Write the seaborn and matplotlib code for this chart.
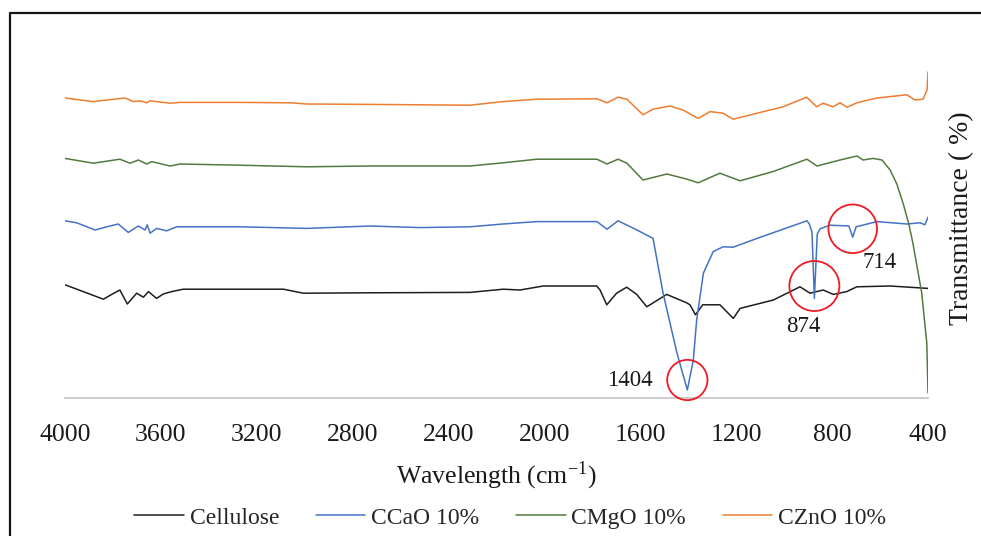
import matplotlib
matplotlib.use("Agg")
import matplotlib.pyplot as plt
from matplotlib.lines import Line2D
import numpy as np
import pandas as pd
import seaborn as sns

# FTIR spectra (stacked, arbitrary transmittance offsets)
cellulose_wn = [4000, 3924, 3840, 3805, 3771, 3740, 3701, 3673, 3652, 3618, 3590, 3555,
                3507, 3089, 3006, 2728, 2311, 2172, 2102, 2005, 1782, 1768, 1740, 1699,
                1657, 1615, 1573, 1490, 1407, 1393, 1370, 1340, 1268, 1212, 1184, 1045,
                934, 892, 837, 795, 739, 697, 558, 400]
cellulose_t = [28.3, 26.6, 24.7, 25.9, 27.0, 23.5, 26.2, 25.2, 26.6, 24.9, 26.0, 26.6,
               27.2, 27.2, 26.2, 26.3, 26.4, 27.2, 27.0, 28.0, 28.0, 27.0, 23.3, 26.2,
               27.7, 25.9, 22.8, 25.9, 23.8, 23.3, 20.8, 23.3, 23.3, 19.9, 22.4, 24.5,
               27.8, 26.2, 27.0, 25.9, 26.6, 27.8, 28.0, 27.4]

ccao_wn = [4000, 3951, 3875, 3826, 3778, 3736, 3694, 3666, 3657, 3645, 3618, 3576,
           3534, 3270, 2991, 2728, 2519, 2311, 2173, 2031, 1781, 1739, 1693, 1614,
           1547, 1505, 1447, 1404, 1379, 1365, 1337, 1296, 1255, 1213, 1113, 976,
           905, 895, 884, 874, 862, 850, 809, 730, 714, 700, 613, 488, 433, 413, 400]
ccao_t = [44.3, 43.8, 42.0, 42.8, 43.5, 41.4, 43.0, 42.0, 43.3, 41.2, 42.4, 41.8,
          42.8, 42.8, 42.4, 43.0, 42.6, 42.8, 43.5, 44.1, 44.1, 42.2, 44.3, 42.0,
          39.9, 26.2, 11.2, 2.0, 9.5, 19.5, 31.2, 36.6, 37.8, 37.7, 39.9, 42.8,
          44.3, 43.5, 41.5, 24.9, 41.0, 42.3, 43.2, 43.0, 40.2, 42.8, 44.1, 43.5,
          43.8, 43.3, 45.2]

cmgo_wn = [4000, 3882, 3771, 3729, 3694, 3659, 3638, 3562, 3520, 3270, 2991, 2728,
           2311, 2173, 2031, 1781, 1739, 1693, 1656, 1589, 1489, 1405, 1359, 1268,
           1184, 1047, 905, 863, 767, 696, 671, 629, 592, 558, 530, 504, 480, 463,
           426, 405, 400]
cmgo_t = [59.9, 58.7, 59.7, 58.7, 59.5, 58.5, 59.1, 58.0, 58.5, 58.2, 57.8, 58.0,
          58.0, 58.8, 59.7, 59.7, 58.5, 59.7, 58.7, 54.5, 56.0, 54.7, 53.8, 56.2,
          54.3, 56.6, 59.7, 58.0, 59.5, 60.5, 59.5, 59.9, 59.5, 57.0, 53.5, 48.7,
          43.5, 38.7, 26.2, 13.7, 1.3]

czno_wn = [4000, 3882, 3826, 3750, 3715, 3687, 3659, 3645, 3562, 3520, 3270, 3061,
           2991, 2728, 2311, 2173, 2031, 1781, 1739, 1693, 1656, 1589, 1547, 1476,
           1422, 1359, 1309, 1255, 1213, 1113, 1005, 906, 864, 838, 796, 767, 738,
           696, 613, 488, 454, 421, 404, 400]
czno_t = [75.0, 74.1, 74.5, 75.0, 74.1, 74.3, 73.8, 74.3, 73.7, 73.9, 73.9, 73.8,
          73.5, 73.4, 73.2, 74.1, 74.7, 74.8, 73.8, 75.2, 74.7, 70.8, 72.2, 73.0,
          72.0, 69.9, 71.6, 71.2, 69.7, 71.2, 72.8, 75.2, 72.8, 73.7, 72.8, 73.8,
          72.7, 73.8, 75.0, 75.8, 74.5, 74.7, 77.0, 81.5]

series_names = ["Cellulose", "CCaO 10%", "CMgO 10%", "CZnO 10%"]
series_colors = ["#1e1e1e", "#4472c4", "#527a3e", "#ed7d31"]

# Marked CaCO3 bands on the CCaO spectrum
peak_wn = [1404, 874, 714]
peak_t = [4.5, 28.0, 42.3]
peak_circle_pt = [29, 36, 35]
peak_label_wn = [1643, 921, 600]
peak_label_t = [4.5, 17.8, 33.8]

frames = []
for name, wn, t in zip(series_names,
                       [cellulose_wn, ccao_wn, cmgo_wn, czno_wn],
                       [cellulose_t, ccao_t, cmgo_t, czno_t]):
    frames.append(pd.DataFrame({"wn": wn, "t": t, "sample": name}))
df = pd.concat(frames, ignore_index=True)

sns.set_theme(style="white")
plt.rcParams["font.family"] = ["Liberation Serif", "DejaVu Serif"]
plt.rcParams["mathtext.fontset"] = "stix"

fig = plt.figure(figsize=(9.81, 5.36), dpi=100)
ax = fig.add_axes([65 / 981, 1 - 398 / 536, 863 / 981, 360 / 536])

sns.lineplot(data=df, x="wn", y="t", hue="sample", hue_order=series_names,
             palette=series_colors, estimator=None, sort=True, linewidth=1.1,
             ax=ax, legend=True)

ax.set_xlim(4000, 400)
ax.set_ylim(0, 90)
ax.set_xticks([4000, 3600, 3200, 2800, 2400, 2000, 1600, 1200, 800, 400])
ax.set_yticks([])
ax.tick_params(axis="x", length=0, pad=19, labelsize=18.5, colors="#1a1a1a")
for side in ["top", "left", "right"]:
    ax.spines[side].set_visible(False)
ax.spines["bottom"].set_color("#c8c8c8")
ax.spines["bottom"].set_linewidth(1.3)

ax.set_xlabel(r"Wavelength (cm$^{\mathregular{-1}}$)", fontsize=18.5, color="#1a1a1a")
ax.xaxis.set_label_coords(0.5, -0.17)
ax.yaxis.set_label_position("right")
ax.set_ylabel("Transmittance ( %)", fontsize=20, color="#1a1a1a", labelpad=15)

# circles and band labels
for wn, t, d in zip(peak_wn, peak_t, peak_circle_pt):
    ax.scatter([wn], [t], s=d ** 2, facecolors="none", edgecolors="#ee1c25",
               linewidths=1.3, zorder=5, clip_on=False)
for wn, t, lbl in zip(peak_label_wn, peak_label_t, peak_wn):
    ax.text(wn, t, str(lbl), fontsize=16.5, ha="center", va="center", color="#1a1a1a")

handles, labels = ax.get_legend_handles_labels()
ax.legend(handles, labels, loc="center", bbox_to_anchor=(0.52, 0.034),
          bbox_transform=fig.transFigure, ncol=4, frameon=False, fontsize=17,
          handlelength=2.1, handletextpad=0.25, columnspacing=1.55)

# outer frame
x0 = 9.5 / 981
y0 = 1 - 12.5 / 536
fig.add_artist(Line2D([x0, x0, 1.0], [0.0, y0, y0], transform=fig.transFigure,
                      color="#151515", linewidth=1.6))

fig.savefig("out.png", dpi=100)
